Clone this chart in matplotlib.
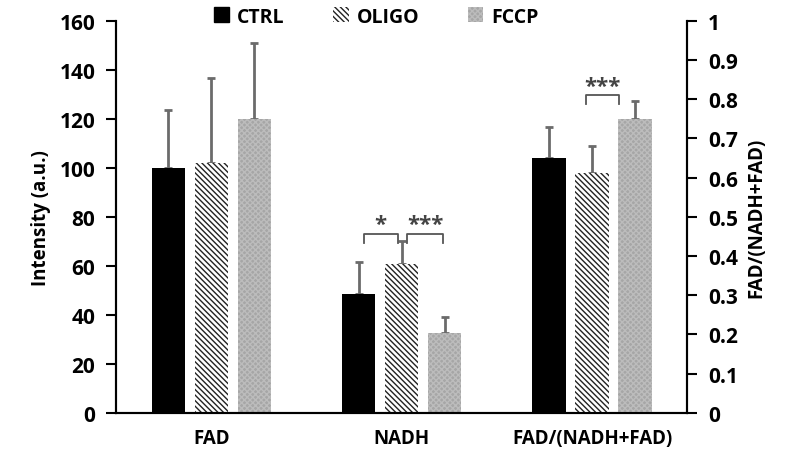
import numpy as np
import matplotlib.pyplot as plt
from matplotlib.patches import Patch

plt.rcParams['font.family'] = ['Open Sans', 'DejaVu Sans']
plt.rcParams['font.weight'] = 'bold'
plt.rcParams['axes.labelweight'] = 'bold'
plt.rcParams['hatch.linewidth'] = 1.0

groups = ['FAD', 'NADH', 'FAD/(NADH+FAD)']
series = ['CTRL', 'OLIGO', 'FCCP']

# intensity (left axis) for FAD and NADH
ctrl_int = [100, 48.6]
oligo_int = [102, 60.8]
fccp_int = [120, 32.7]
ctrl_int_err = [23.5, 13]
oligo_int_err = [34.5, 9.5]
fccp_int_err = [31, 6.5]

# ratio (right axis)
ratio = [0.65, 0.612, 0.75]
ratio_err = [0.08, 0.068, 0.046]

fig = plt.figure(figsize=(8, 4.64), dpi=100)
ax = fig.add_axes([0.145, 0.108, 0.714, 0.845])
ax2 = ax.twinx()

w = 0.174
step = 0.226
styles = [
    dict(color='black'),
    dict(facecolor='white', edgecolor='#222222', hatch='\\\\\\\\\\\\', linewidth=0),
    dict(facecolor='#a6a6a6', edgecolor='#bcbcbc', hatch='xxxxxx', linewidth=0),
]
err_kw = dict(ecolor='#6b6b6b', elinewidth=2, capsize=3, capthick=2)

int_vals = [ctrl_int, oligo_int, fccp_int]
int_errs = [ctrl_int_err, oligo_int_err, fccp_int_err]
x = np.arange(2)
for i in range(3):
    xs = x + (i - 1) * step
    ax.bar(xs, int_vals[i], w, **styles[i], zorder=2)
    ax.errorbar(xs, int_vals[i], yerr=[np.zeros(2), int_errs[i]], fmt='none', **err_kw, zorder=1)
    xr = 2 + (i - 1) * step
    ax2.bar(xr, ratio[i], w, **styles[i], zorder=2)
    ax2.errorbar(xr, ratio[i], yerr=[[0], [ratio_err[i]]], fmt='none', **err_kw, zorder=1)

ax.set_xlim(-0.5, 2.5)
ax.set_ylim(0, 160)
ax.set_yticks(np.arange(0, 161, 20))
ax2.set_ylim(0, 1)
ax2.set_yticks(np.arange(0, 1.01, 0.1))
ax2.set_yticklabels(['0'] + ['%.1f' % v for v in np.arange(0.1, 0.95, 0.1)] + ['1'])
ax.set_xticks(range(3))
ax.set_xticklabels(groups, fontsize=13.5, fontweight='bold')
ax.tick_params(axis='x', length=0, pad=11)
for a in (ax, ax2):
    a.tick_params(axis='y', direction='out', length=7, width=1.5, labelsize=15, pad=8)
    for lab in a.get_yticklabels():
        lab.set_fontweight('bold')
    a.spines['top'].set_visible(False)
    for s in ('left', 'right', 'bottom'):
        a.spines[s].set_linewidth(1.5)
ax.set_ylabel('Intensity (a.u.)', fontsize=13.5, labelpad=6, fontweight='bold')
ax2.set_ylabel('FAD/(NADH+FAD)', fontsize=13.5, labelpad=6, fontweight='bold')


def bracket(a, x1, x2, y, h, label, ty):
    a.plot([x1, x1, x2, x2], [y - h, y, y, y - h], color='#555555', lw=1.3, zorder=3)
    a.text((x1 + x2) / 2, ty, label, ha='center', va='bottom', fontsize=16,
           color='#444444', fontweight='bold')


bracket(ax, 0.8, 0.98, 73, 3.5, '*', 72.5)
bracket(ax, 1.03, 1.22, 73, 3.5, '***', 72.5)
bracket(ax2, 1.97, 2.14, 0.81, 0.022, '***', 0.807)

handles = [Patch(**styles[i], label=series[i]) for i in range(3)]
fig.legend(handles=handles, loc='center', bbox_to_anchor=(0.47, 0.962), ncol=3,
           frameon=False, prop=dict(size=14, weight='bold'), handlelength=0.8,
           handleheight=0.8, handletextpad=0.4, columnspacing=2.5)

fig.savefig('out.png', dpi=100)
